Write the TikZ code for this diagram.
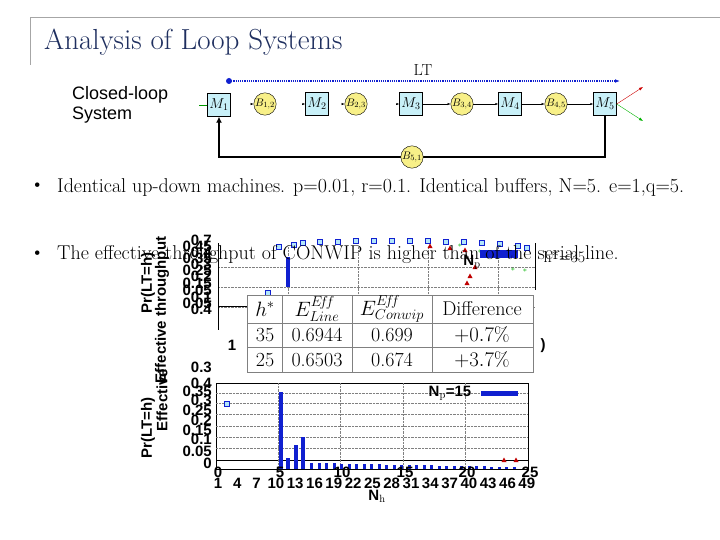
\documentclass[tikz,border=0pt]{standalone}
\usepackage{fontspec}
\newfontfamily\sff{Liberation Sans}
\usetikzlibrary{arrows.meta}
\definecolor{mbox}{HTML}{C8F0F8}
\definecolor{bfill}{HTML}{F8F088}
\definecolor{ttl}{HTML}{1F2F5F}
\definecolor{pblue}{HTML}{1020D0}
\tikzset{
 mach/.style={draw,fill=mbox,minimum width=23pt,minimum height=23pt,inner sep=0pt,font=\fontsize{14}{14}\selectfont},
 buf/.style={draw,fill=bfill,circle,minimum size=22pt,inner sep=0pt,font=\fontsize{11}{11}\selectfont},
 flow/.style={-{Latex[length=3pt]},thin},
 tk/.style={font=\sff\fontsize{15}{15}\selectfont\bfseries,inner sep=0pt},
 grid/.style={densely dotted,gray,thin},
 sq/.style={draw=pblue,fill=cyan!30,minimum size=5pt,inner sep=0pt},
}
\begin{document}
\begin{tikzpicture}[x=1pt,y=-1pt]
\useasboundingbox (0,0) rectangle (720,540);
\draw[gray!70] (30,65) -- (30,17) -- (720,17);
\node[anchor=west,text=ttl,font=\fontsize{29}{29}\selectfont,inner sep=0pt] (title) at (44,42) {Analysis of Loop Systems};
\node[font=\fontsize{16}{16}\selectfont] (lt) at (423,70) {LT};
\coordinate (lts) at (229,81); \coordinate (lte) at (620,81);
\fill[pblue] (lts) circle (3);
\draw[pblue,densely dotted,line width=1.2pt,-{Latex[length=5pt]}] (lts) -- (lte);
\node[anchor=west,align=left,font=\sff\fontsize{18}{20}\selectfont,inner sep=0pt] (cls) at (72,105) {Closed-loop\\System};
\node[mach] (m1) at (219,105) {$M_1$};
\node[buf] (b12) at (265,104) {$B_{1,2}$};
\node[mach] (m2) at (317,104) {$M_2$};
\node[buf] (b23) at (356,104) {$B_{2,3}$};
\node[mach] (m3) at (411,104) {$M_3$};
\node[buf] (b34) at (462,104) {$B_{3,4}$};
\node[mach] (m4) at (510,104) {$M_4$};
\node[buf] (b45) at (556,104) {$B_{4,5}$};
\node[mach] (m5) at (605,104) {$M_5$};
\draw[green!60!black] (199,105) -- (m1);
\draw[flow] ([xshift=-3pt]b12.west) -- (b12);
\draw[flow] ([xshift=-3pt]m2.west) -- (m2);
\draw[flow] ([xshift=-3pt]b23.west) -- (b23);
\draw[flow] ([xshift=-3pt]m3.west) -- (m3);
\draw[flow] (m3) -- (b34); \draw[flow] (b34) -- (m4);
\draw[flow] (m4) -- (b45); \draw[flow] (b45) -- (m5);
\coordinate (red) at (643,87); \coordinate (grn) at (643,121);
\draw[red!80!black,-{Latex[length=4pt]}] (m5.east) -- (red);
\draw[green!70!black,-{Latex[length=4pt]}] (m5.east) -- (grn);
\coordinate (lp) at (412,157);
\draw[line width=2.5pt,-{Latex[length=6pt,width=6pt]}] (m5.south) |- (lp) -| (m1.south);
\node[buf] (b51) at (lp) {$B_{5,1}$};
% bullets
\node[anchor=west,font=\fontsize{20}{20}\selectfont,inner sep=0pt] (bl1) at (30,187) {\textbullet};
\node[anchor=west,font=\fontsize{20}{20}\selectfont,inner sep=0pt] (t1) at (57,187) {Identical up-down machines. p=0.01, r=0.1. Identical buffers, N=5. e=1,q=5.};
% upper plot
\draw[grid] (218,267) -- (535,267) (218,287) -- (535,287) (218,307) -- (535,307);
\foreach \x in {288,358,428,498} \draw[grid] (\x,247) -- (\x,297);
\draw (218,243) -- (218,330) (535,243) -- (535,290);
\draw (218,306) -- (247,306);
\foreach \x/\y in {268/293, 279/247, 294/245, 303/243, 320/242, 338/242, 356/241, 374/241, 392/241, 410/241, 428/241, 446/242, 464/242, 482/243, 500/244, 518/246, 527/248}
  \node[sq] at (\x,\y) {};
\fill[pblue] (286,257) rectangle (290,287);
\foreach \x/\y in {430/246, 450/248, 465/250, 475/267, 467/283, 470/276}
  \fill[red!75!black] (\x,\y-2.5) -- (\x+2.5,\y+2) -- (\x-2.5,\y+2) -- cycle;
\foreach \x/\y in {460/246, 480/252, 500/258, 513/270, 525/271}
  \node[green!70!black,font=\fontsize{8}{8}\selectfont] at (\x,\y) {$\ast$};
\fill[pblue] (480,250) rectangle (518,258);
\foreach \y/\t in {240/0.7,246/0.45,252/0.4,258/0.35,264/0.3,270/0.25,276/0.2,283/0.15,290/0.05,297/0.1,303/0.05,309/0.4}
  \node[tk,anchor=east] at (212,\y) {\t};
\node[tk] at (232,345) {1};
\node[tk] at (543,346) {)};
\node[tk,anchor=east] at (212,367) {0.3};
\node[tk,rotate=90] at (148,283) {Pr(LT=h)};
\node[tk,rotate=90] at (162,310) {Effective throughput};
% bullet 2 (over the plot)
\node[anchor=west,font=\fontsize{20}{20}\selectfont,inner sep=0pt] (bl2) at (30,255) {\textbullet};
\node[anchor=west,font=\fontsize{20}{20}\selectfont,inner sep=0pt] (t2) at (57,255) {The effective throughput of CONWIP is higher than of the serial line.};
\node[tk] at (472,262) {N$_\mathrm{p}$};
% table
\fill[white] (247,295) rectangle (533,372);
\draw[gray,line width=1pt] (247,295) rectangle (533,372);
\draw[gray,line width=1pt] (247,323) -- (533,323) (247,347) -- (533,347);
\draw[gray,line width=1pt] (282,295) -- (282,372) (352,295) -- (352,372) (432,295) -- (432,372);
\begin{scope}[font=\fontsize{20}{20}\selectfont]
\node (h1) at (265,309) {$h^{*}$};
\node (h2) at (317,309) {$E^{E\!f\!f}_{Line}$};
\node (h3) at (392,309) {$E^{E\!f\!f}_{Conwip}$};
\node (h4) at (482,309) {Difference};
\node at (265,335) {35}; \node at (317,335) {0.6944}; \node at (392,335) {0.699}; \node at (482,335) {$+0.7\%$};
\node at (265,360) {25}; \node at (317,360) {0.6503}; \node at (392,360) {0.674}; \node at (482,360) {$+3.7\%$};
\end{scope}
% lower plot
\draw (216,383) rectangle (528,469);
\draw (216,460) -- (528,460);
\foreach \y in {393,403,414,426,437,448} \draw[grid] (216,\y) -- (528,\y);
\foreach \x in {278,340,403,465} \draw[grid] (\x,383) -- (\x,469);
\node[sq] at (227,404) {};
\fill[pblue] (279,392) rectangle (283,469);
\fill[pblue] (286,458) rectangle (290,469);
\fill[pblue] (294,445) rectangle (298,469);
\fill[pblue] (301,437) rectangle (305,469);
\foreach \i in {0,...,27} \fill[pblue] ({310+7.5*\i},{463+\i*0.15}) rectangle ({313+7.5*\i},469);
\fill[pblue] (481,391) rectangle (518,396);
\node[tk] at (450,393) {N$_\mathrm{p}$=15};
\foreach \x in {504,516} \fill[red!75!black] (\x,460-2.5) -- (\x+2.5,462) -- (\x-2.5,462) -- cycle;
\foreach \y/\t in {383/0.4,391/0.35,400/0.3,410/0.25,420/0.2,430/0.15,439/0.1,451/0.05,463/0}
  \node[tk,anchor=east] at (212,\y) {\t};
\foreach \t [count=\i from 0] in {1,4,7,10,13,16,19,22,25,28,31,34,37,40,43,46,49}
  \node[tk] at ({218+19.3*\i},483) {\t};
\foreach \x/\t in {218/0,280/5,342/10,405/15,467/20,530/25}
  \node[tk] at (\x,472) {\t};
\node[tk] at (377,496) {N$_\mathrm{h}$};
\node[tk,rotate=90] at (148,428) {Pr(LT=h)};
\node[tk,rotate=90] at (162,400) {Effective};
\node[anchor=west,font=\fontsize{16}{16}\selectfont] at (540,257) {h*=35};
\end{tikzpicture}
\end{document}
